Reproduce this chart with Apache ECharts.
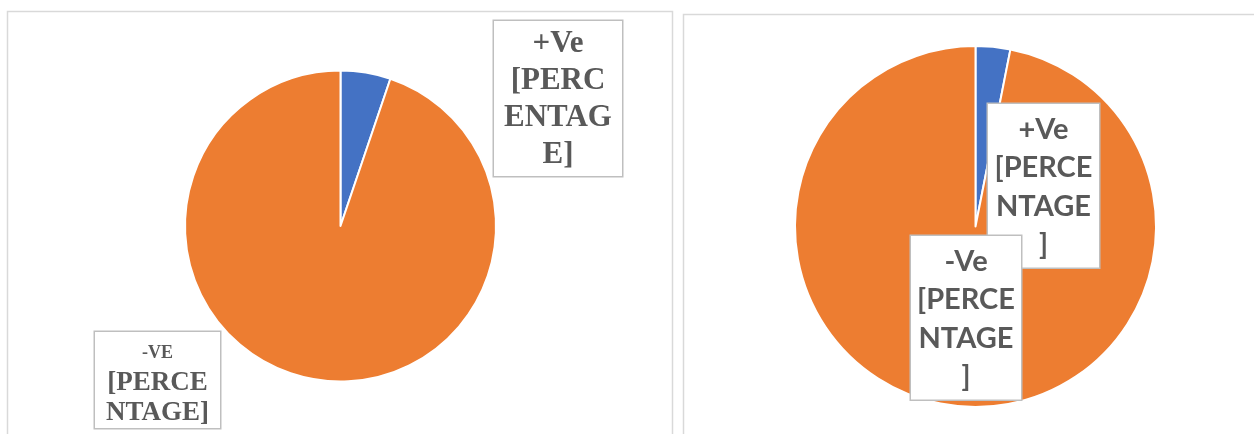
<!DOCTYPE html>
<html>
<head>
<meta charset="utf-8">
<script src="https://cdn.jsdelivr.net/npm/echarts@6/dist/echarts.min.js"></script>
<style>
html,body{margin:0;padding:0;background:#fff;}
#chart{width:1254px;height:434px;}
</style>
</head>
<body>
<div id="chart"></div>
<script>
// ---- data ----
const categories = ['+Ve', '-Ve'];
const leftValues = [5.2, 94.8];
const rightValues = [3.1, 96.9];
const leftLabelLines = [['+Ve', '[PERC', 'ENTAG', 'E]'], ['-VE', '[PERCE', 'NTAGE]']];
const rightLabelLines = [['+Ve', '[PERCE', 'NTAGE', ']'], ['-Ve', '[PERCE', 'NTAGE', ']']];
const sliceColors = ['#4472C4', '#ED7D31'];

// ---- layout / style (not data) ----
const boxes = [
  [{x: 494, y: 21, w: 128}, {x: 95, y: 332, w: 125}],
  [{x: 988, y: 104, w: 111}, {x: 911, y: 236, w: 110}]
];
const boxStyle = {backgroundColor: '#fff', borderColor: '#bfbfbf', borderWidth: 1.5, color: '#595959', fontWeight: 'bold'};

function leftItem(i) {
  let label;
  if (i === 0) {
    label = Object.assign({}, boxStyle, {
      show: true,
      formatter: leftLabelLines[i].join('\n'),
      fontFamily: 'Liberation Serif', fontSize: 31, lineHeight: 37,
      width: boxes[0][i].w, align: 'center', padding: [4.5, 0, 2.5, 0], overflow: 'none'
    });
  } else {
    const lines = leftLabelLines[i].map((t, k) => (k === 0 ? '{s|' : '{b|') + t + '}');
    label = Object.assign({}, boxStyle, {
      show: true,
      formatter: lines.join('\n'),
      fontFamily: 'Liberation Serif', fontSize: 27, lineHeight: 30,
      width: boxes[0][i].w, align: 'center', padding: [6, 0, 0, 0], overflow: 'none',
      rich: {
        s: {fontFamily: 'Liberation Serif', fontWeight: 'bold', fontSize: 18, lineHeight: 30, color: '#595959', align: 'center'},
        b: {fontFamily: 'Liberation Serif', fontWeight: 'bold', fontSize: 27, lineHeight: 30, color: '#595959', align: 'center'}
      }
    });
  }
  return {name: categories[i], value: leftValues[i], itemStyle: {color: sliceColors[i]}, label: label};
}
function rightItem(i) {
  const label = Object.assign({}, boxStyle, {
    show: true,
    formatter: rightLabelLines[i].join('\n'),
    fontFamily: 'Lato', fontSize: 29, lineHeight: 38.5,
    width: boxes[1][i].w, align: 'center', padding: [6, 0, 3.5, 0], overflow: 'none'
  });
  return {name: categories[i], value: rightValues[i], itemStyle: {color: sliceColors[i]}, label: label};
}

const chart = echarts.init(document.getElementById('chart'), null, {renderer: 'canvas'});
function layoutFn(params) {
  const b = boxes[params.seriesIndex][params.dataIndex];
  return {x: b.x + b.w / 2, y: b.y, align: 'center', verticalAlign: 'top'};
}
const common = {
  type: 'pie', startAngle: 90, clockwise: true, avoidLabelOverlap: false,
  animation: false, silent: true,
  itemStyle: {borderColor: '#fff', borderWidth: 2},
  labelLine: {show: false},
  emphasis: {disabled: true},
  labelLayout: layoutFn
};
chart.setOption({
  backgroundColor: '#fff',
  animation: false,
  graphic: [
    {type: 'rect', z: -1, shape: {x: 7.5, y: 11.5, width: 665, height: 440}, style: {fill: 'none', stroke: '#d9d9d9', lineWidth: 1.5}},
    {type: 'rect', z: -1, shape: {x: 683.5, y: 14.5, width: 600, height: 440}, style: {fill: 'none', stroke: '#d9d9d9', lineWidth: 1.5}}
  ],
  series: [
    Object.assign({}, common, {center: [340.5, 226], radius: 155.5, data: categories.map((c, i) => leftItem(i))}),
    Object.assign({}, common, {center: [975.5, 226.5], radius: 180.5, data: categories.map((c, i) => rightItem(i))})
  ]
});
</script>
</body>
</html>
